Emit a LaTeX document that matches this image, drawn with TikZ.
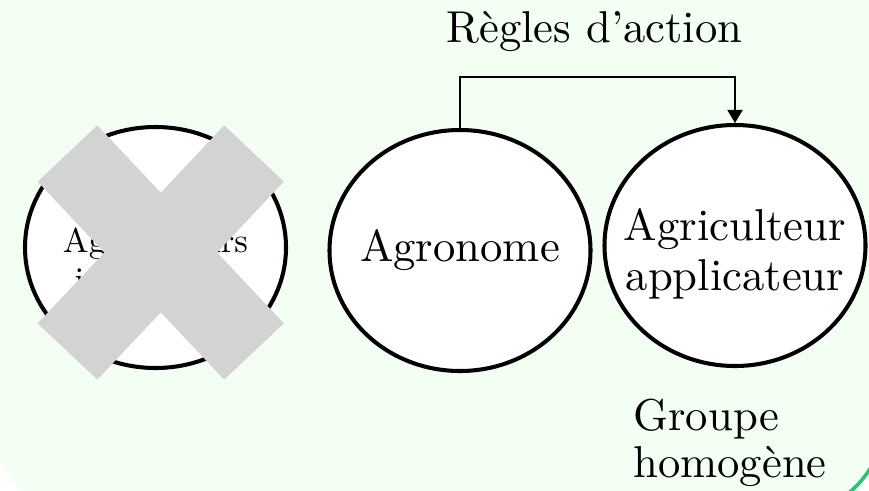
\documentclass[tikz,border=0pt]{standalone}
\usepackage{fontspec}
\setmainfont{lmroman10-regular.otf}
\usepackage{xcolor}
\usepackage{tikz}
\usetikzlibrary{positioning,arrows.meta,shapes.geometric}
\definecolor{slidebg}{RGB}{243, 255, 243}
\definecolor{framegreen}{RGB}{30, 200, 110}
\definecolor{crossgray}{RGB}{211, 211, 211}
\newcommand{\actorsize}{\fontsize{25.4}{28.5}\selectfont}
\newcommand{\oldactorsize}{\fontsize{19.6}{22}\selectfont}
\newcommand{\captionsize}{\fontsize{25.4}{26.7}\selectfont}
\tikzset{
    actor/.style={ellipse, draw, line width=2.3pt, fill=white, minimum width=5.22cm, minimum height=4.82cm, inner sep=0pt},
    actor text/.style={align=center, inner sep=0pt, font=\actorsize},
    old actor text/.style={actor text, font=\oldactorsize},
    cross bar/.style={draw=crossgray, line width=1.64cm},
    flow arrow/.style={-{Triangle[width=0.3cm,length=0.26cm]}, line width=1.1pt},
    caption/.style={font=\captionsize, align=left, inner sep=0pt}
}

\begin{document}
\begin{tikzpicture}
    \useasboundingbox (0,0) rectangle (17.38,9.8);
    \clip (0,0) rectangle (17.38,9.8);

    % Slide background with rounded bottom corners
    \fill[white] (0,0) rectangle (17.38,9.8);
    \fill[slidebg, rounded corners=2cm] (-0.2,-0.52) rectangle (17.7,11);
    \draw[framegreen, line width=2pt] (17.7,3) -- (17.7,1.48) arc[start angle=0, end angle=-90, radius=2cm] -- (12,-0.52);

    % Actors
    \node[actor, label={[old actor text, yshift=-0.25cm]center:Agriculteurs\\individuels}] (indiv) at (3.11,4.85) {};
    \node[actor, label={[actor text]center:Agronome}] (agro) at (9.2,4.79) {};
    \node[actor, label={[actor text, yshift=-0.16cm]center:Agriculteur\\applicateur}] (agri) at (14.7,4.89) {};

    % Crossed out
    \draw[cross bar] (1.35,6.73) -- (5.08,2.77);
    \draw[cross bar] (5.08,6.73) -- (1.35,2.77);

    % Action rules go from the agronomist to the farmer
    \draw[flow arrow] (agro.north) -- ++(0,1.02) -| (agri.north);
    \node[caption, anchor=base] (rules) at (11.89,8.96) {Règles d'action};

    % Group label
    \node[caption, anchor=base west] (group) at (12.66,0.26) {Groupe\\homogène};
\end{tikzpicture}
\end{document}
